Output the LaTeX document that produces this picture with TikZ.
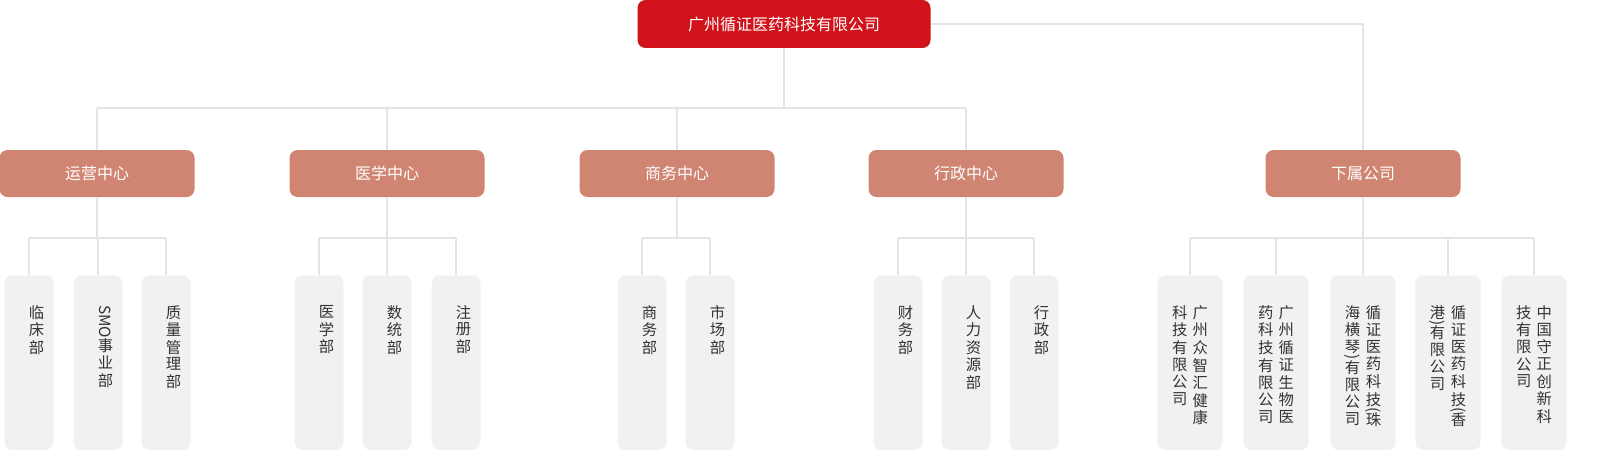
\documentclass[tikz,border=0pt]{standalone}
\usepackage{fontspec}
\setmainfont{Noto Sans CJK SC}
\usepackage{graphicx}
\usetikzlibrary{positioning}

\definecolor{topred}{RGB}{208,18,27}
\definecolor{midred}{RGB}{207,133,113}
\definecolor{boxgray}{RGB}{241,241,241}
\definecolor{linegray}{RGB}{228,228,228}
\definecolor{txt}{RGB}{51,51,51}

% vertical column of characters
\newcommand{\vcol}[1]{\begin{tabular}[t]{@{}c@{}}#1\end{tabular}}
\newcommand{\rp}[1]{\rotatebox[origin=c]{-90}{#1}}
% text block hanging from the top of a department box
\newcommand{\hang}[1]{\parbox[c][118pt][t]{48pt}{\centering\vspace{16pt}#1}}

\tikzset{
  head/.style={fill=topred, rounded corners=6pt, text=white, minimum width=219.75pt, minimum height=36pt, font=\fontsize{12}{14}\selectfont},
  center/.style={fill=midred, rounded corners=6pt, text=white, minimum width=146.25pt, minimum height=35.25pt, font=\fontsize{12}{14}\selectfont},
  dept/.style={fill=boxgray, rounded corners=6pt, inner sep=0pt, minimum width=36.75pt, minimum height=131pt, text width=36.75pt, align=center, anchor=north, text=txt, font=\fontsize{11.5}{12}\selectfont},
  firm/.style={dept, minimum width=49pt, text width=49pt},
  link/.style={draw=linegray, line width=1pt},
}

\begin{document}
\begin{tikzpicture}[x=0.75pt,y=-0.75pt]
		% Company head
		\node[head] (head) at (784,24) {广州循证医药科技有限公司};

		% The four centres and the subsidiaries
		\node[center] (ops) at (97,173.5) {运营中心};
		\node[center] (med) at (387,173.5) {医学中心};
		\node[center] (biz) at (677,173.5) {商务中心};
		\node[center] (adm) at (966,173.5) {行政中心};
		\node[center] (sub) at (1363,173.5) {下属公司};

		% Departments below the centres
		\node[dept] (clin) at (29,275) {\hang{\vcol{临\\床\\部}}};
		\node[dept] (smo) at (98,275) {\hang{\vcol{\rp{SMO}\\事\\业\\部}}};
		\node[dept] (qual) at (166,275) {\hang{\vcol{质\\量\\管\\理\\部}}};

		\node[dept] (mdep) at (319,275) {\hang{\vcol{医\\学\\部}}};
		\node[dept] (stat) at (387,275) {\hang{\vcol{数\\统\\部}}};
		\node[dept] (reg) at (456,275) {\hang{\vcol{注\\册\\部}}};

		\node[dept] (bdep) at (642,275) {\hang{\vcol{商\\务\\部}}};
		\node[dept] (mkt) at (710,275) {\hang{\vcol{市\\场\\部}}};

		\node[dept] (fin) at (898,275) {\hang{\vcol{财\\务\\部}}};
		\node[dept] (hr) at (966,275) {\hang{\vcol{人\\力\\资\\源\\部}}};
		\node[dept] (adep) at (1034,275) {\hang{\vcol{行\\政\\部}}};

		% Subsidiaries, columns read right to left
		\node[firm] (zzh) at (1190,275) {\hang{\vcol{科\\技\\有\\限\\公\\司}\hspace{4pt}\vcol{广\\州\\众\\智\\汇\\健\\康}}};
		\node[firm] (bio) at (1276,275) {\hang{\vcol{药\\科\\技\\有\\限\\公\\司}\hspace{4pt}\vcol{广\\州\\循\\证\\生\\物\\医}}};
		\node[firm] (zh) at (1363,275) {\hang{\vcol{海\\横\\琴\\[-5pt]\rp{)}\\[-5pt]有\\限\\公\\司}\hspace{4pt}\vcol{循\\证\\医\\药\\科\\技\\[-5pt]\rp{(}\\[-5pt]珠}}};
		\node[firm] (hk) at (1448,275) {\hang{\vcol{港\\[-5pt]\rp{)}\\[-5pt]有\\限\\公\\司}\hspace{4pt}\vcol{循\\证\\医\\药\\科\\技\\[-5pt]\rp{(}\\[-5pt]香}}};
		\node[firm] (zs) at (1534,275) {\hang{\vcol{技\\有\\限\\公\\司}\hspace{4pt}\vcol{中\\国\\守\\正\\创\\新\\科}}};

		% Bus lines
		\coordinate (bus) at (784,108);
		\coordinate (low) at (0,238);

		% head to centres
		\draw[link] (head.south) -- (bus);
		\draw[link] (bus -| ops.north) -- (bus -| adm.north);
		\foreach \c in {ops,med,biz,adm}
			\draw[link] (bus -| \c.north) -- (\c.north);
		\draw[link] (head.east) -| (sub.north);

		% centres to departments
		\foreach \c/\a/\b in {ops/clin/qual, med/mdep/reg, biz/bdep/mkt, adm/fin/adep, sub/zzh/zs}
			\draw[link] (\c.south) -- (low -| \c.south) (low -| \a.north) -- (low -| \b.north);
		\foreach \d in {clin,smo,qual,mdep,stat,reg,bdep,mkt,fin,hr,adep,zzh,bio,zh,hk,zs}
			\draw[link] (low -| \d.north) -- (\d.north);

		\pgfresetboundingbox
		\path[use as bounding box] (0,0) rectangle (1601,460);
	\end{tikzpicture}
\end{document}
